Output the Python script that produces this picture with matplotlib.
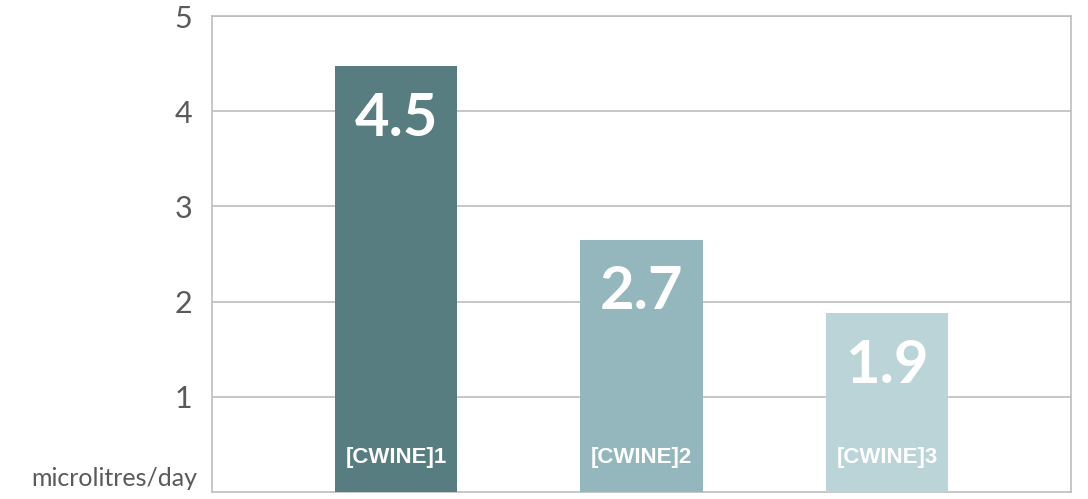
import matplotlib
matplotlib.use("Agg")
import matplotlib.pyplot as plt

# values
categories = ["[CWINE]1", "[CWINE]2", "[CWINE]3"]
heights = [4.47, 2.65, 1.88]
value_labels = ["4.5", "2.7", "1.9"]
y_ticks = [1, 2, 3, 4, 5]
y_label = "microlitres/day"

colors = ["#587d81", "#94b7bd", "#bad4d7"]
grid_color = "#bdbdbd"
text_grey = "#5a5a5a"

fig = plt.figure(figsize=(10.88, 4.99), dpi=100)
ax = fig.add_axes([212 / 1088, 7 / 499, 859 / 1088, 476 / 499])

x = list(range(len(categories)))
bars = ax.bar(x, heights, width=0.5, color=colors, zorder=3)

ax.set_xlim(-0.75, 2.75)
ax.set_ylim(0, 5)
ax.set_yticks(y_ticks)
ax.set_yticklabels([str(t) for t in y_ticks], fontsize=22, color=text_grey,
                   family=["Lato", "DejaVu Sans"], fontweight="normal")
ax.set_xticks([])
ax.tick_params(axis="y", length=0, pad=14)
ax.grid(axis="y", color=grid_color, linewidth=1.2, zorder=0)
for s in ax.spines.values():
    s.set_color(grid_color)
    s.set_linewidth(1.2)

# unit label in place of the zero tick
ax.text(-0.017, 0.005, y_label, transform=ax.transAxes, ha="right", va="bottom",
        fontsize=18, color=text_grey, family=["Lato", "DejaVu Sans"])

for bar, lab, cat in zip(bars, value_labels, categories):
    cx = bar.get_x() + bar.get_width() / 2
    ax.annotate(lab, (cx, bar.get_height()), xytext=(0, -38), textcoords="offset points",
                ha="center", va="center", fontsize=43, fontweight="bold", color="white",
                family=["Lato", "DejaVu Sans"], zorder=4)
    ax.annotate(cat, (cx, 0), xytext=(0, 25), textcoords="offset points",
                ha="center", va="center", fontsize=16, fontweight="bold", color="white",
                family=["Liberation Sans Narrow", "Liberation Sans", "DejaVu Sans"], zorder=4)

fig.savefig("out.png", dpi=100)
